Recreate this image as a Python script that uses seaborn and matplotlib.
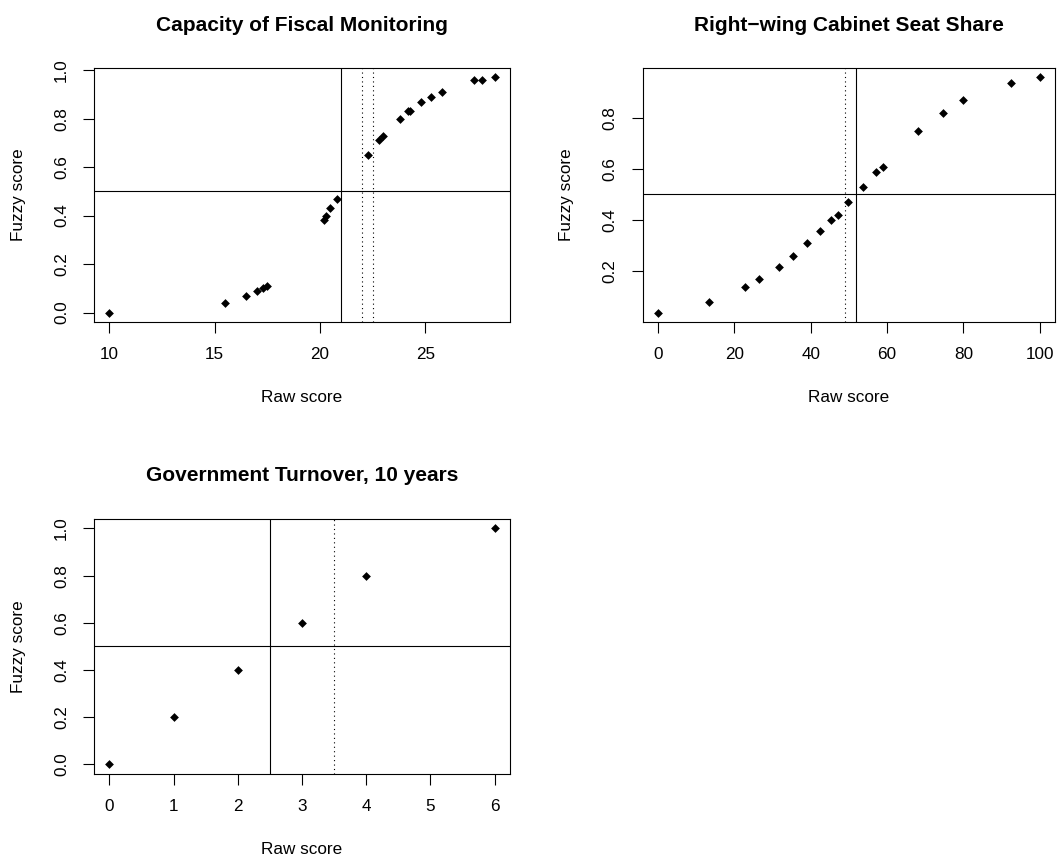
import matplotlib
matplotlib.use("Agg")
import matplotlib.pyplot as plt
import seaborn as sns
import pandas as pd

# Calibration data: raw scores and their fuzzy-set membership
fiscal_raw = [10.0, 15.5, 16.5, 17.0, 17.3, 17.5, 20.2, 20.3, 20.5, 20.8, 22.3,
              22.8, 23.0, 23.8, 24.2, 24.3, 24.8, 25.3, 25.8, 27.3, 27.7, 28.3]
fiscal_fuzzy = [0.00, 0.04, 0.07, 0.09, 0.10, 0.11, 0.38, 0.40, 0.43, 0.47, 0.65,
                0.71, 0.73, 0.80, 0.83, 0.83, 0.87, 0.89, 0.91, 0.96, 0.96, 0.97]

rightwing_raw = [0.0, 13.3, 22.7, 26.4, 31.6, 35.3, 39.0, 42.5, 45.3, 47.1, 49.9,
                 53.8, 57.1, 58.9, 68.2, 74.6, 79.9, 92.4, 100.0]
rightwing_fuzzy = [0.038, 0.079, 0.139, 0.169, 0.218, 0.260, 0.309, 0.358, 0.399,
                   0.420, 0.469, 0.529, 0.588, 0.609, 0.748, 0.818, 0.869, 0.938, 0.958]

turnover_raw = [0, 1, 2, 3, 4, 6]
turnover_fuzzy = [0.0, 0.2, 0.4, 0.6, 0.8, 1.0]

titles = ["Capacity of Fiscal Monitoring", "Right\u2212wing Cabinet Seat Share",
          "Government Turnover, 10 years"]

# crossover (solid) and alternative thresholds (dotted)
crossovers = [21.0, 52.0, 2.5]
dotted_thresholds = [[22.0, 22.5], [49.0], [3.5]]

x_ticks = [[10, 15, 20, 25], [0, 20, 40, 60, 80, 100], [0, 1, 2, 3, 4, 5, 6]]
y_ticks = [[0.0, 0.2, 0.4, 0.6, 0.8, 1.0], [0.2, 0.4, 0.6, 0.8],
           [0.0, 0.2, 0.4, 0.6, 0.8, 1.0]]

sns.set_theme(style="white")
plt.rcParams["font.family"] = ["Liberation Sans", "DejaVu Sans"]
plt.rcParams["axes.edgecolor"] = "black"
plt.rcParams["axes.linewidth"] = 0.8

W, H = 1064, 860
fig = plt.figure(figsize=(W / 100, H / 100), dpi=100)
fig.patch.set_facecolor("white")

boxes = [(94, 68, 510, 322), (642.7, 68, 1055, 322), (94, 519, 510, 773.7)]
series = [(fiscal_raw, fiscal_fuzzy), (rightwing_raw, rightwing_fuzzy),
          (turnover_raw, turnover_fuzzy)]


def expand(lo, hi):
    pad = 0.04 * (hi - lo)
    return lo - pad, hi + pad


for i, ((l, t, r, b), (xs, ys)) in enumerate(zip(boxes, series)):
    ax = fig.add_axes([l / W, 1 - b / H, (r - l) / W, (b - t) / H])
    df = pd.DataFrame({"raw": xs, "fuzzy": ys})
    ax.axhline(0.5, color="black", lw=0.8, zorder=1)
    ax.axvline(crossovers[i], color="black", lw=0.8, zorder=1)
    for d in dotted_thresholds[i]:
        ax.axvline(d, color="black", lw=0.8, dashes=(1, 3), zorder=1)
    sns.scatterplot(data=df, x="raw", y="fuzzy", ax=ax, marker="D", s=20,
                    color="black", edgecolor="black", linewidth=0, zorder=3)
    ax.set_xlim(*expand(min(xs), max(xs)))
    ax.set_ylim(*expand(min(ys), max(ys)))
    ax.set_xticks(x_ticks[i])
    ax.set_yticks(y_ticks[i])
    ax.set_xticklabels([str(v) for v in x_ticks[i]])
    ax.set_yticklabels([f"{v:.1f}" for v in y_ticks[i]], rotation=90, va="center")
    ax.tick_params(axis="both", which="major", length=8, width=0.8,
                   color="black", labelsize=12.3, labelcolor="black", pad=10,
                   bottom=True, left=True)
    for s in ax.spines.values():
        s.set_visible(True)
        s.set_color("black")
        s.set_linewidth(0.8)
    ax.set_xlabel("Raw score", fontsize=12.3, color="black")
    ax.set_ylabel("Fuzzy score", fontsize=12.3, color="black")
    ax.xaxis.set_label_coords(0.5, -76 / (b - t))
    ax.xaxis.label.set_va("center")
    ax.yaxis.set_label_coords(-76 / (r - l), 0.5)
    ax.yaxis.label.set_va("center")
    ax.set_title(titles[i], fontsize=15, fontweight="bold", color="black",
                 pad=0, y=1 + 43 / (b - t), va="center")

fig.savefig("out.png", dpi=100, facecolor="white")
